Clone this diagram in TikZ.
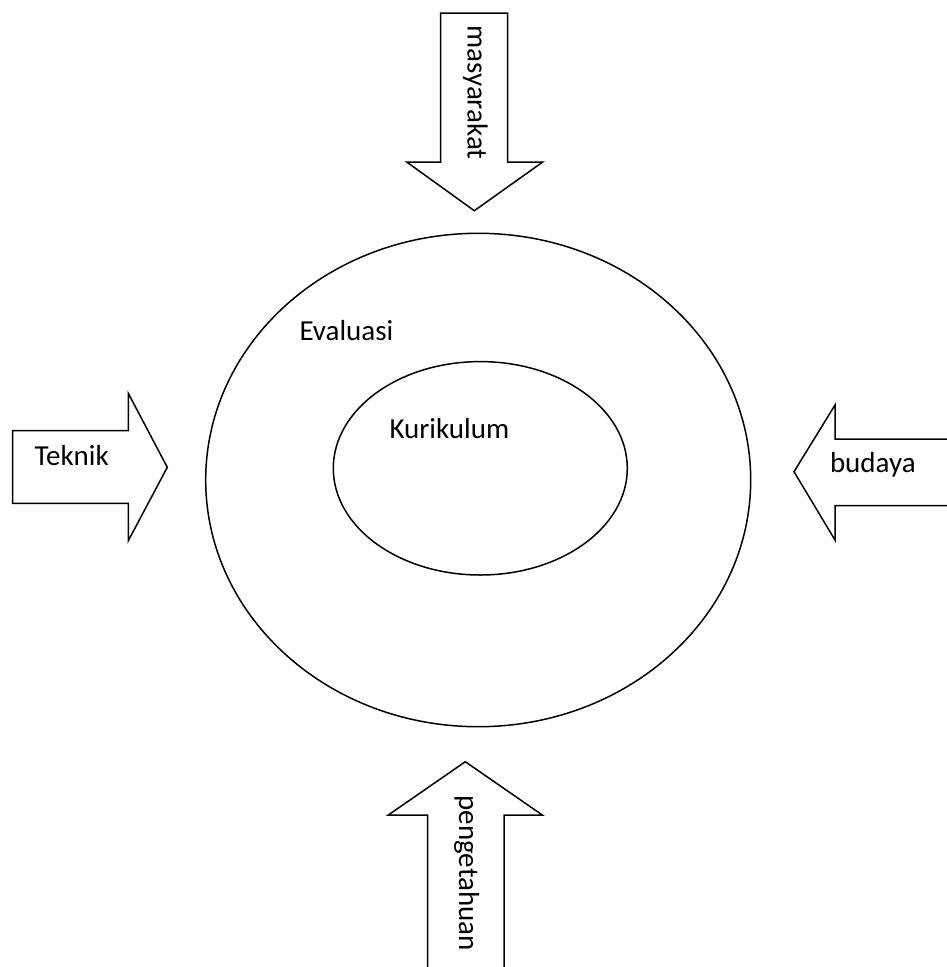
\documentclass[tikz,border=0pt]{standalone}
\usepackage{fontspec}
\setmainfont{Carlito}
\begin{document}
\begin{tikzpicture}[x=1pt,y=-1pt,
  shape line/.style={draw=black,line width=1.5pt,line join=miter},
  lbl/.style={inner sep=0pt,outer sep=0pt,font=\fontsize{29}{34}\selectfont}]
\useasboundingbox (0,0) rectangle (947,967);
\clip (0,0) rectangle (947,967);
% ellipses
\draw[shape line] (478.2,480) ellipse [x radius=272.5pt, y radius=246.7pt];
\draw[shape line] (480.3,468.3) ellipse [x radius=147pt, y radius=106.7pt];
% top arrow
\draw[shape line] (440.7,13) -- (507.7,13) -- (507.7,162) -- (542.7,162) -- (474.3,210.7) -- (406.7,162) -- (440.7,162) -- cycle;
% left arrow
\draw[shape line] (12.7,430.7) -- (128.3,430.7) -- (128.3,393.3) -- (167.3,467.3) -- (128.3,540.7) -- (128.3,503.3) -- (12.7,503.3) -- cycle;
% right arrow
\draw[shape line] (955,439) -- (835,439) -- (835,405) -- (794,471.7) -- (835,540) -- (835,505.7) -- (955,505.7);
% bottom arrow
\draw[shape line] (427.7,975) -- (427.7,815) -- (388.3,815) -- (465.3,761.7) -- (542.3,815) -- (504,815) -- (504,975);
% labels
\node[lbl,anchor=base west] (evaluasi) at (299.5,340.7) {Evaluasi};
\node[lbl,anchor=base west] (kurikulum) at (389.5,438) {Kurikulum};
\node[lbl,anchor=base west] (teknik) at (34.5,465) {Teknik};
\node[lbl,anchor=base west] (budaya) at (830,472.7) {budaya};
\node[lbl,anchor=base west,rotate=-90] (masyarakat) at (467.5,25.5) {masyarakat};
\node[lbl,anchor=base west,rotate=-90] (pengetahuan) at (459,795.5) {pengetahuan};
\end{tikzpicture}
\end{document}
